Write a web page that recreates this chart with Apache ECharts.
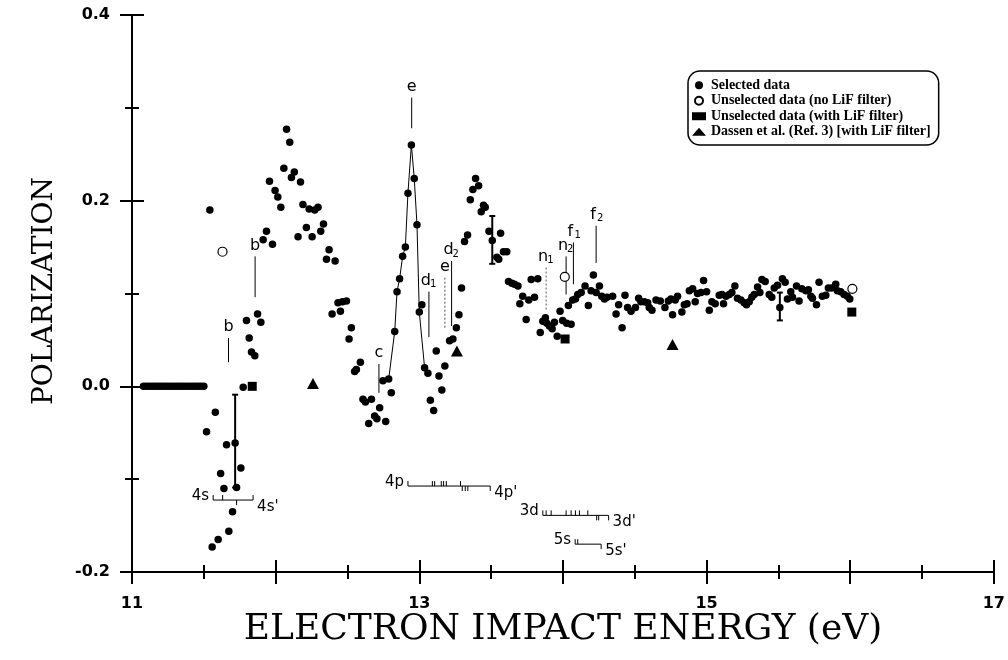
<!DOCTYPE html>
<html>
<head>
<meta charset="utf-8">
<script src="https://cdn.jsdelivr.net/npm/echarts/dist/echarts.min.js"></script>
<style>
  html, body {margin: 0; background: #fff;}
  #chart {width: 1008px; height: 660px;}
</style>
</head>
<body>
<div id="chart"></div>
<script>
// tick labels
const xTickLabels = ['11', '13', '15', '17'];
const yTickLabels = ['-0.2', '0.0', '0.2', '0.4'];

// [energy eV, polarization]
const selectedData = [
  [11.08,0],[11.10,0],[11.12,0],[11.14,0],[11.16,0],[11.18,0],[11.20,0],[11.22,0],[11.24,0],[11.26,0],[11.28,0],
  [11.30,0],[11.32,0],[11.34,0],[11.36,0],[11.38,0],[11.40,0],[11.42,0],[11.44,0],[11.46,0],[11.48,0],[11.50,0],
  [11.519,-0.049],[11.542,0.190],[11.558,-0.173],[11.580,-0.028],[11.600,-0.165],[11.617,-0.094],[11.640,-0.110],
  [11.658,-0.063],[11.674,-0.156],[11.700,-0.135],[11.718,-0.061],[11.728,-0.109],[11.758,-0.088],[11.774,-0.001],
  [11.797,0.071],[11.816,0.052],[11.832,0.037],[11.855,0.033],[11.874,0.078],[11.897,0.069],[11.913,0.158],
  [11.936,0.167],[11.957,0.221],[11.978,0.153],[11.996,0.211],[12.015,0.204],[12.036,0.193],[12.057,0.235],
  [12.076,0.277],[12.098,0.263],[12.110,0.225],[12.130,0.231],[12.156,0.161],[12.173,0.220],[12.190,0.196],
  [12.214,0.171],[12.233,0.191],[12.254,0.161],[12.272,0.190],[12.295,0.193],[12.314,0.167],[12.333,0.175],
  [12.354,0.137],[12.372,0.147],[12.393,0.078],[12.414,0.135],[12.434,0.090],[12.451,0.081],[12.465,0.091],
  [12.493,0.092],[12.511,0.051],[12.527,0.063],[12.550,0.016],[12.562,0.018],[12.590,0.026],[12.608,-0.014],
  [12.625,-0.017],[12.648,-0.040],[12.667,-0.014],[12.689,-0.032],[12.705,-0.035],[12.724,-0.023],[12.747,0.006],
  [12.766,-0.038],[12.787,0.008],[12.805,-0.007],[12.829,0.059],[12.845,0.102],[12.863,0.116],[12.884,0.140],
  [12.903,0.150],[12.921,0.208],[12.945,0.260],[12.965,0.224],[12.984,0.174],[13.000,0.080],[13.018,0.088],
  [13.037,0.020],[13.060,0.014],[13.077,-0.015],[13.100,-0.026],[13.118,0.038],[13.137,0.011],[13.157,-0.004],
  [13.178,0.022],[13.211,0.049],[13.234,0.051],[13.258,0.063],[13.276,0.077],[13.294,0.106],[13.315,0.156],
  [13.336,0.163],[13.355,0.201],[13.373,0.212],[13.392,0.224],[13.413,0.216],[13.431,0.188],[13.447,0.195],
  [13.459,0.193],[13.485,0.167],[13.508,0.157],[13.540,0.139],[13.553,0.137],[13.566,0.165],[13.586,0.145],
  [13.609,0.145],[13.621,0.113],[13.645,0.111],[13.663,0.110],[13.687,0.108],[13.700,0.089],[13.720,0.097],
  [13.744,0.072],[13.762,0.093],[13.779,0.115],[13.802,0.096],[13.825,0.116],[13.842,0.058],[13.860,0.070],
  [13.878,0.074],[13.888,0.068],[13.906,0.065],[13.925,0.062],[13.941,0.069],[13.960,0.054],[13.980,0.081],
  [13.998,0.071],[14.026,0.068],[14.038,0.087],[14.057,0.067],[14.068,0.093],[14.087,0.094],[14.103,0.099],
  [14.127,0.101],[14.154,0.108],[14.177,0.087],[14.196,0.103],[14.212,0.120],[14.231,0.101],[14.254,0.108],
  [14.270,0.097],[14.289,0.094],[14.307,0.096],[14.346,0.097],[14.370,0.078],[14.388,0.088],[14.412,0.063],
  [14.432,0.098],[14.450,0.085],[14.474,0.081],[14.505,0.085],[14.527,0.095],[14.543,0.091],[14.567,0.091],
  [14.590,0.090],[14.601,0.085],[14.620,0.082],[14.648,0.093],[14.678,0.092],[14.710,0.085],[14.734,0.092],
  [14.752,0.094],[14.763,0.077],[14.782,0.093],[14.798,0.097],[14.828,0.080],[14.845,0.088],[14.864,0.089],
  [14.880,0.103],[14.903,0.105],[14.921,0.091],[14.937,0.100],[14.961,0.101],[14.979,0.114],[15.000,0.102],
  [15.019,0.082],[15.037,0.091],[15.060,0.089],[15.088,0.098],[15.107,0.099],[15.118,0.089],[15.135,0.097],
  [15.158,0.099],[15.176,0.101],[15.197,0.108],[15.215,0.095],[15.239,0.093],[15.262,0.090],[15.278,0.088],
  [15.297,0.091],[15.315,0.096],[15.332,0.099],[15.355,0.107],[15.371,0.101],[15.385,0.115],[15.408,0.113],
  [15.436,0.099],[15.454,0.096],[15.471,0.106],[15.494,0.109],[15.510,0.085],[15.528,0.116],[15.547,0.112],
  [15.563,0.094],[15.586,0.102],[15.598,0.096],[15.626,0.108],[15.644,0.092],[15.663,0.105],[15.691,0.103],
  [15.709,0.104],[15.726,0.097],[15.737,0.095],[15.765,0.088],[15.783,0.112],[15.806,0.097],[15.830,0.098],
  [15.848,0.106],[15.871,0.106],[15.899,0.110],[15.911,0.103],[15.934,0.102],[15.957,0.099],[15.980,0.097],
  [15.997,0.094]
];
const unselectedNoLiF = [[11.630,0.145],[14.013,0.118],[16.015,0.105]];
const unselectedLiF = [[11.837,0.000],[14.015,0.051],[16.011,0.080]];
const dassenData = [[12.260,0.003],[13.262,0.038],[14.763,0.045]];

// thin line through the e resonance
const peakLine = [
  [12.787,0.008],[12.829,0.059],[12.845,0.102],[12.863,0.116],[12.884,0.140],[12.903,0.150],
  [12.921,0.208],[12.945,0.260],[12.965,0.224],[12.984,0.174],[13.000,0.080],[13.037,0.020]
];

// [energy, top, bottom]
const errorBars = [[11.718,-0.009,-0.109],[13.508,0.1835,0.132],[15.510,0.101,0.071]];

// resonance markers [energy, top, bottom]
const markerLines = [
  [11.672,0.052,0.026],[11.857,0.140,0.096],[12.719,0.024,-0.007],[12.947,0.311,0.278],
  [13.067,0.102,0.053],[13.178,0.117,0.061],[13.225,0.135,0.065],[13.883,0.128,0.081],
  [14.022,0.140,0.099],[14.073,0.155,0.110],[14.231,0.173,0.133]
];
const markerNames = ['b','b','c','e','d','e','d','n','n','f','f'];
const markerSubs = ['','','','','1','','2','1','2','1','2'];
const markerDotted = [false,false,false,false,false,true,false,true,false,false,false];

// level diagrams [start energy, end energy, polarization row]
const levelSpans = [[11.565,11.843,-0.1225],[12.921,13.494,-0.1074],[13.860,14.318,-0.139],[14.085,14.266,-0.170]];
const levelLeft = ['4s','4p','3d','5s'];
const levelRight = ["4s'","4p'","3d'","5s'"];
// [energy, row, direction: 1 up, -1 down]
const levelTicks = [
  [11.565,-0.1225,1],[11.631,-0.1225,1],[11.728,-0.1225,-1],[11.843,-0.1225,1],
  [12.921,-0.1074,1],[13.091,-0.1074,1],[13.107,-0.1074,1],[13.153,-0.1074,1],[13.169,-0.1074,1],
  [13.188,-0.1074,1],[13.287,-0.1074,1],[13.299,-0.1074,-1],[13.320,-0.1074,-1],[13.338,-0.1074,-1],
  [13.494,-0.1074,-1],
  [13.860,-0.139,1],[13.883,-0.139,1],[13.918,-0.139,1],[14.022,-0.139,1],[14.057,-0.139,1],
  [14.087,-0.139,1],[14.115,-0.139,1],[14.173,-0.139,1],[14.235,-0.139,-1],[14.249,-0.139,-1],
  [14.318,-0.139,-1],
  [14.085,-0.170,1],[14.103,-0.170,1],[14.266,-0.170,-1]
];

const chart = echarts.init(document.getElementById('chart'));

const sans = 'DejaVu Sans';
const black = {color: '#000', width: 2};

// one axis per tick size and side, so ticks cross the axis line
const xAxisOf = (interval, len, inside, labels) => ({
  type: 'value', min: 11, max: 17, interval, position: 'bottom',
  axisLine: {show: true, onZero: false, lineStyle: black},
  splitLine: {show: false},
  axisTick: {show: true, inside, length: len, lineStyle: black},
  axisLabel: labels ? {
    margin: 24, color: '#000', fontFamily: sans, fontWeight: 'bold', fontSize: 16,
    showMinLabel: true, showMaxLabel: true,
    formatter: v => xTickLabels.includes(String(v)) ? String(v) : ''
  } : {show: false}
});
const yAxisOf = (interval, len, inside, labels) => ({
  type: 'value', min: -0.2, max: 0.4, interval, position: 'left',
  axisLine: {show: true, onZero: false, lineStyle: black},
  splitLine: {show: false},
  axisTick: {show: true, inside, length: len, lineStyle: black},
  axisLabel: labels ? {
    margin: 22, color: '#000', fontFamily: sans, fontWeight: 'bold', fontSize: 16,
    showMinLabel: true, showMaxLabel: true,
    formatter: v => {
      const s = v.toFixed(1);
      return yTickLabels.includes(s) ? s : '';
    }
  } : {show: false}
});

const txt = (text, x, y, size, align, valign) => ({
  type: 'text',
  style: {
    text, x, y, fill: '#000', font: size + 'px "' + sans + '"',
    align, verticalAlign: valign, textAlign: align, textVerticalAlign: valign
  }
});

chart.setOption({
  animation: false,
  backgroundColor: '#fff',
  grid: {left: 132, right: 13, top: 15, bottom: 88},
  xAxis: [
    xAxisOf(1, 12, false, true),
    xAxisOf(1, 12, true, false),
    xAxisOf(0.5, 7, false, false),
    xAxisOf(0.5, 7, true, false)
  ],
  yAxis: [
    yAxisOf(0.2, 12, false, true),
    yAxisOf(0.2, 12, true, false),
    yAxisOf(0.1, 7, false, false),
    yAxisOf(0.1, 7, true, false)
  ],
  legend: {
    left: 688, top: 71, orient: 'vertical', selectedMode: false,
    padding: [7, 8, 6, 4], itemGap: 1, itemWidth: 14, itemHeight: 8,
    borderColor: '#000', borderWidth: 1.5, borderRadius: 12,
    textStyle: {fontFamily: 'Liberation Serif', fontWeight: 'bold', fontSize: 14, color: '#000', lineHeight: 14.5},
    data: ['Selected data', 'Unselected data (no LiF filter)', 'Unselected data (with LiF filter)',
           'Dassen et al. (Ref. 3) [with LiF filter]']
  },
  graphic: [
    {
      type: 'text', x: 563, y: 630,
      style: {text: 'ELECTRON IMPACT ENERGY (eV)', font: '36px "DejaVu Serif"', fill: '#000',
              align: 'center', verticalAlign: 'middle', textAlign: 'center', textVerticalAlign: 'middle'}
    },
    {
      type: 'text', x: 45, y: 291, rotation: Math.PI / 2,
      style: {text: 'POLARIZATION', font: '28px "DejaVu Serif"', fill: '#000',
              align: 'center', verticalAlign: 'middle', textAlign: 'center', textVerticalAlign: 'middle'}
    }
  ],
  series: [
    {
      name: 'peak line', type: 'line', data: peakLine, symbol: 'none', z: 1,
      lineStyle: {color: '#000', width: 1}
    },
    {
      name: 'Selected data', type: 'scatter', data: selectedData, symbol: 'circle', symbolSize: 7.5, z: 3,
      itemStyle: {color: '#000', opacity: 1}
    },
    {
      name: 'Unselected data (no LiF filter)', type: 'scatter', data: unselectedNoLiF,
      symbol: 'circle', symbolSize: 9, z: 3,
      itemStyle: {color: '#fff', borderColor: '#000', borderWidth: 1.2, opacity: 1}
    },
    {
      name: 'Unselected data (with LiF filter)', type: 'scatter', data: unselectedLiF,
      symbol: 'rect', symbolSize: 9, z: 3, itemStyle: {color: '#000', opacity: 1}
    },
    {
      name: 'Dassen et al. (Ref. 3) [with LiF filter]', type: 'scatter', data: dassenData,
      symbol: 'triangle', symbolSize: [12, 11], z: 3, itemStyle: {color: '#000', opacity: 1}
    },
    {
      name: 'error bars', type: 'custom', data: errorBars, z: 2,
      encode: {x: 0, y: [1, 2]},
      renderItem: (params, api) => {
        const top = api.coord([api.value(0), api.value(1)]);
        const bot = api.coord([api.value(0), api.value(2)]);
        const st = {stroke: '#000', lineWidth: 2};
        return {type: 'group', children: [
          {type: 'line', shape: {x1: top[0], y1: top[1], x2: bot[0], y2: bot[1]}, style: st},
          {type: 'line', shape: {x1: top[0] - 3, y1: top[1], x2: top[0] + 3, y2: top[1]}, style: st},
          {type: 'line', shape: {x1: bot[0] - 3, y1: bot[1], x2: bot[0] + 3, y2: bot[1]}, style: st}
        ]};
      }
    },
    {
      name: 'markers', type: 'custom', data: markerLines, z: 2,
      encode: {x: 0, y: [1, 2]},
      renderItem: (params, api) => {
        const top = api.coord([api.value(0), api.value(1)]);
        const bot = api.coord([api.value(0), api.value(2)]);
        const i = params.dataIndex;
        const sub = markerSubs[i];
        const kids = [
          {type: 'line', shape: {x1: top[0], y1: top[1], x2: bot[0], y2: bot[1]},
           style: {stroke: markerDotted[i] ? '#555' : '#000', lineWidth: 1,
                   lineDash: markerDotted[i] ? [2, 2] : null}},
          txt(markerNames[i], sub ? top[0] - 3 : top[0], top[1] - 3, 16, 'center', 'bottom')
        ];
        if (sub) kids.push(txt(sub, top[0] + 1, top[1] - 2, 10, 'left', 'bottom'));
        return {type: 'group', children: kids};
      }
    },
    {
      name: 'levels', type: 'custom', data: levelSpans, z: 2,
      encode: {x: [0, 1], y: 2},
      renderItem: (params, api) => {
        const a = api.coord([api.value(0), api.value(2)]);
        const b = api.coord([api.value(1), api.value(2)]);
        const i = params.dataIndex;
        return {type: 'group', children: [
          {type: 'line', shape: {x1: a[0], y1: a[1], x2: b[0], y2: b[1]},
           style: {stroke: '#000', lineWidth: 1}},
          txt(levelLeft[i], a[0] - 4, a[1] - 4, 15, 'right', 'middle'),
          txt(levelRight[i], b[0] + 4, b[1] + 7, 15, 'left', 'middle')
        ]};
      }
    },
    {
      name: 'level ticks', type: 'custom', data: levelTicks, z: 2,
      encode: {x: 0, y: 1},
      renderItem: (params, api) => {
        const p = api.coord([api.value(0), api.value(1)]);
        const d = api.value(2);
        return {type: 'line', shape: {x1: p[0], y1: p[1], x2: p[0], y2: p[1] - d * 5},
                style: {stroke: '#000', lineWidth: 1}};
      }
    }
  ]
});
</script>
</body>
</html>
